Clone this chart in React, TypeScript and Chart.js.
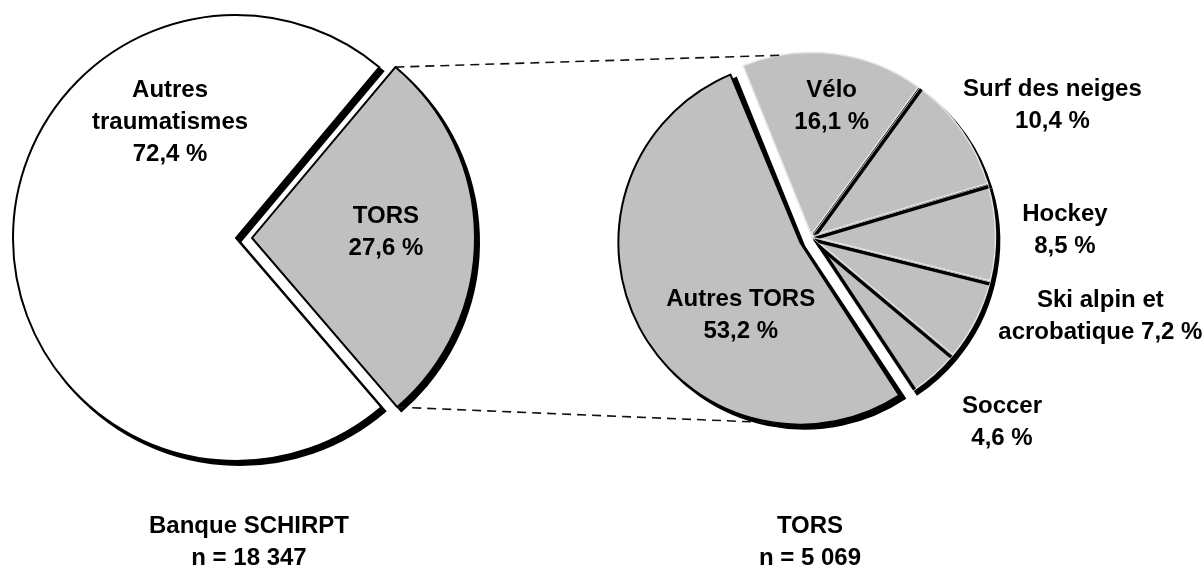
import React, { useEffect, useRef } from 'react';
import { Chart, registerables } from 'chart.js';

Chart.register(...registerables);

// ---------- data ----------
const leftLabels = ['TORS', 'Autres traumatismes'];
const leftValues = [27.6, 72.4];
const leftNameLines = [['TORS'], ['Autres', 'traumatismes']];
const leftPctInline = [false, false];
const leftTitle = ['Banque SCHIRPT', 'n = 18 347'];

const rightLabels = ['Vélo', 'Surf des neiges', 'Hockey', 'Ski alpin et acrobatique', 'Soccer', 'Autres TORS'];
const rightValues = [16.1, 10.4, 8.5, 7.2, 4.6, 53.2];
const rightNameLines = [['Vélo'], ['Surf des neiges'], ['Hockey'], ['Ski alpin et', 'acrobatique'], ['Soccer'], ['Autres TORS']];
const rightPctInline = [false, false, false, true, false, false];
const rightTitle = ['TORS', 'n = 5 069'];

// ---------- style ----------
const W = 1202;
const H = 571;
const FONT = 'bold 24px "Liberation Sans", Arial, Helvetica, sans-serif';
const LINE_H = 32;
const SHADOW_X = 4;
const SHADOW_Y = 4;
const GREY = '#c0c0c0';

// label placement: [angle from top (deg, clockwise), distance from pie centre (px)]
const leftLabelPlace = [[88, 150], [330.4, 133.5]];
const rightLabelPlace = [[9, 132], [61.4, 275], [88.6, 254], [105.3, 300], [134.1, 266], [222, 105]];

// dark edges inside slices: [slice index, which edge]
const rightDarkEdges: [number, 'start' | 'end'][] = [[1, 'start'], [2, 'start'], [3, 'start'], [4, 'start'], [4, 'end']];

const fmtPct = (v: number) => v.toFixed(1).replace('.', ',') + ' %';

function buildLines(names: string[][], values: number[], inline: boolean[]) {
  return names.map((n, i) => {
    const lines = n.slice();
    if (inline[i]) lines[lines.length - 1] = lines[lines.length - 1] + ' ' + fmtPct(values[i]);
    else lines.push(fmtPct(values[i]));
    return lines;
  });
}

function arcGeom(el: any) {
  const off = (el.options.offset || 0) / 4;
  const mid = (el.startAngle + el.endAngle) / 2;
  const fix = 1 - Math.sin(Math.min(Math.PI, el.circumference || 0));
  return {
    cx: el.x + Math.cos(mid) * off,
    cy: el.y + Math.sin(mid) * off,
    r: el.outerRadius + off * fix,
    start: el.startAngle,
    end: el.endAngle,
  };
}

function slicePath(ctx: CanvasRenderingContext2D, g: any, dx: number, dy: number) {
  ctx.beginPath();
  ctx.moveTo(g.cx + dx, g.cy + dy);
  ctx.arc(g.cx + dx, g.cy + dy, g.r, g.start, g.end);
  ctx.closePath();
}

// keep every slice at the same drawn radius even when exploded
const radiusFix = {
  id: 'radiusFix',
  afterDatasetUpdate(chart: any, args: any) {
    const meta = chart.getDatasetMeta(args.index);
    meta.data.forEach((el: any) => {
      const off = (el.options.offset || 0) / 4;
      const fix = 1 - Math.sin(Math.min(Math.PI, el.circumference || 0));
      el.outerRadius = el.outerRadius - off * fix;
    });
  },
};

// drop shadow under the pie, plus dark edges between adjacent slices
function makeShadowPlugin(darkEdges: [number, 'start' | 'end'][]) {
  return {
    id: 'pieShadow',
    beforeDatasetsDraw(chart: any) {
      const ctx = chart.ctx;
      const meta = chart.getDatasetMeta(0);
      ctx.save();
      ctx.fillStyle = '#000';
      ctx.strokeStyle = '#000';
      ctx.lineJoin = 'miter';
      meta.data.forEach((el: any) => {
        const g = arcGeom(el);
        slicePath(ctx, g, SHADOW_X, SHADOW_Y);
        ctx.fill();
        ctx.lineWidth = el.options.borderWidth || 1;
        ctx.stroke();
      });
      ctx.restore();
    },
    afterDatasetsDraw(chart: any) {
      const ctx = chart.ctx;
      const els = chart.getDatasetMeta(0).data;
      darkEdges.forEach(([i, which]) => {
        const g = arcGeom(els[i]);
        const a = which === 'start' ? g.start : g.end;
        ctx.save();
        slicePath(ctx, g, 0, 0);
        ctx.clip();
        ctx.strokeStyle = '#000';
        ctx.lineWidth = 7;
        ctx.beginPath();
        ctx.moveTo(g.cx, g.cy);
        ctx.lineTo(g.cx + Math.cos(a) * (g.r + 4), g.cy + Math.sin(a) * (g.r + 4));
        ctx.stroke();
        ctx.restore();
      });
    },
  };
}

function makeLabelPlugin(lines: string[][], place: number[][], title: string[], titleX: number) {
  return {
    id: 'sliceLabels',
    afterDatasetsDraw(chart: any) {
      const ctx = chart.ctx;
      const meta = chart.getDatasetMeta(0);
      const el0 = meta.data[0];
      const cx = el0.x;
      const cy = el0.y;
      ctx.save();
      ctx.font = FONT;
      ctx.fillStyle = '#000';
      ctx.textAlign = 'center';
      ctx.textBaseline = 'middle';
      lines.forEach((ls, i) => {
        const a = (place[i][0] * Math.PI) / 180;
        const d = place[i][1];
        const x = cx + Math.sin(a) * d;
        const y = cy - Math.cos(a) * d;
        ls.forEach((t, j) => {
          ctx.fillText(t, x, y + (j - (ls.length - 1) / 2) * LINE_H);
        });
      });
      title.forEach((t, j) => {
        ctx.fillText(t, titleX, 526 + j * LINE_H);
      });
      ctx.restore();
    },
  };
}

function makeConnectorPlugin(getLeft: () => any) {
  return {
    id: 'connectors',
    afterDatasetsDraw(chart: any) {
      const left = getLeft();
      if (!left) return;
      const lEl = left.getDatasetMeta(0).data[0];
      const rMeta = chart.getDatasetMeta(0);
      const velo = rMeta.data[0];
      const autres = rMeta.data[rMeta.data.length - 1];
      const lg = arcGeom(lEl);
      const vg = arcGeom(velo);
      const ag = arcGeom(autres);
      const p1 = [lg.cx + Math.cos(lg.start) * lg.r, lg.cy + Math.sin(lg.start) * lg.r];
      const p2 = [lg.cx + Math.cos(lg.end) * lg.r, lg.cy + Math.sin(lg.end) * lg.r];
      const aTop = ((-10 - 90) * Math.PI) / 180;
      const aBot = ((188 - 90) * Math.PI) / 180;
      const q1 = [vg.cx + Math.cos(aTop) * vg.r, vg.cy + Math.sin(aTop) * vg.r];
      const q2 = [ag.cx + Math.cos(aBot) * ag.r, ag.cy + Math.sin(aBot) * ag.r];
      const ctx = chart.ctx;
      ctx.save();
      ctx.strokeStyle = '#111';
      ctx.lineWidth = 1.6;
      ctx.setLineDash([9, 6]);
      ctx.beginPath();
      ctx.moveTo(p1[0], p1[1]);
      ctx.lineTo(q1[0], q1[1]);
      ctx.moveTo(p2[0], p2[1]);
      ctx.lineTo(q2[0], q2[1]);
      ctx.stroke();
      ctx.restore();
    },
  };
}

export default function App() {
  const leftRef = useRef<HTMLCanvasElement>(null);
  const rightRef = useRef<HTMLCanvasElement>(null);

  useEffect(() => {
    const leftLines = buildLines(leftNameLines, leftValues, leftPctInline);
    const rightLines = buildLines(rightNameLines, rightValues, rightPctInline);

    const leftCenter = [236, 238];
    const rightCenter = [811, 237];

    const left = new Chart(leftRef.current as HTMLCanvasElement, {
      type: 'pie',
      data: {
        labels: leftLabels,
        datasets: [
          {
            data: leftValues,
            backgroundColor: [GREY, '#ffffff'],
            borderColor: '#000',
            borderWidth: 2,
            borderJoinStyle: 'miter',
            offset: [64, 0],
          } as any,
        ],
      },
      options: {
        responsive: false,
        animation: false,
        events: [],
        radius: 223,
        rotation: 40,
        layout: {
          padding: { left: 0, right: W - 2 * leftCenter[0], top: 0, bottom: H - 2 * leftCenter[1] },
        },
        plugins: { legend: { display: false }, tooltip: { enabled: false } },
      } as any,
      plugins: [radiusFix, makeShadowPlugin([]), makeLabelPlugin(leftLines, leftLabelPlace, leftTitle, 249)],
    });

    const right = new Chart(rightRef.current as HTMLCanvasElement, {
      type: 'pie',
      data: {
        labels: rightLabels,
        datasets: [
          {
            data: rightValues,
            backgroundColor: GREY,
            borderColor: ['#e4e4e4', '#e4e4e4', '#e4e4e4', '#e4e4e4', '#e4e4e4', '#000'],
            borderWidth: [1.5, 1.5, 1.5, 1.5, 1.5, 2],
            borderJoinStyle: 'miter',
            offset: [10, 10, 10, 10, 10, 48],
          } as any,
        ],
      },
      options: {
        responsive: false,
        animation: false,
        events: [],
        radius: 182,
        rotation: -22,
        layout: {
          padding: { left: 2 * rightCenter[0] - W, right: 0, top: 0, bottom: H - 2 * rightCenter[1] },
        },
        plugins: { legend: { display: false }, tooltip: { enabled: false } },
      } as any,
      plugins: [
        radiusFix,
        makeShadowPlugin(rightDarkEdges),
        makeLabelPlugin(rightLines, rightLabelPlace, rightTitle, 810),
        makeConnectorPlugin(() => left),
      ],
    });

    return () => {
      right.destroy();
      left.destroy();
    };
  }, []);

  return (
    <div style={{ position: 'absolute', left: 0, top: 0, width: W, height: H, background: '#fff' }}>
      <canvas ref={leftRef} width={W} height={H} style={{ position: 'absolute', left: 0, top: 0 }} />
      <canvas ref={rightRef} width={W} height={H} style={{ position: 'absolute', left: 0, top: 0 }} />
    </div>
  );
}
